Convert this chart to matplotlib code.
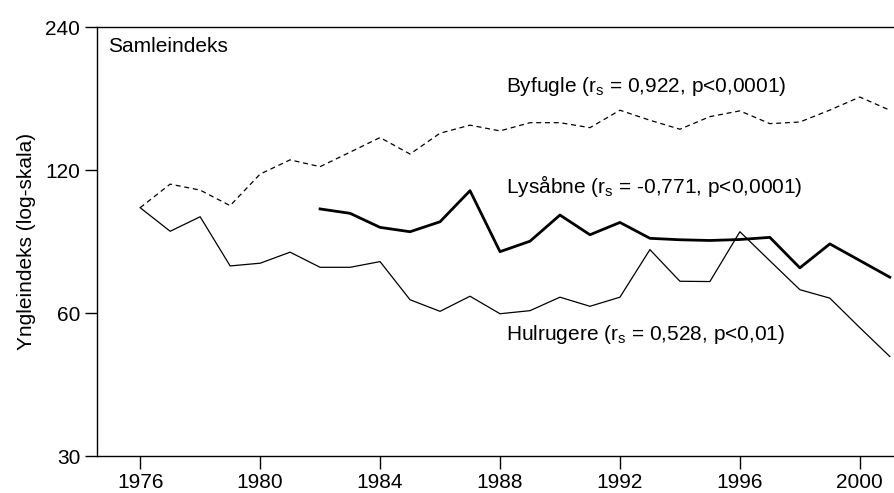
import matplotlib
matplotlib.use('Agg')
import matplotlib.pyplot as plt
from matplotlib.ticker import FixedLocator, NullLocator

plt.rcParams['font.family'] = ['Liberation Sans', 'DejaVu Sans']
plt.rcParams['mathtext.fontset'] = 'custom'
plt.rcParams['mathtext.rm'] = 'Liberation Sans'
plt.rcParams['mathtext.it'] = 'Liberation Sans'

years_hul = list(range(1976, 2002))
hulrugere = [100, 89.2, 95.7, 75.4, 76.4, 80.6, 74.9, 74.9, 77.0, 64.0, 60.5, 65.1, 59.8,
             60.7, 64.8, 62.0, 64.8, 81.6, 70.0, 69.9, 89.0, 77.3, 67.2, 64.5, 55.9, 48.6]

years_by = list(range(1976, 2002))
byfugle = [100, 112.1, 108.9, 101.0, 117.7, 126.1, 122.0, 130.9, 140.5, 129.7, 143.5, 149.2, 145.1,
           151.0, 151.0, 147.4, 160.4, 152.8, 146.3, 155.5, 159.9, 150.3, 151.5, 160.5, 171.0, 160.4]

years_lys = list(range(1982, 2002))
lysaabne = [99.4, 97.3, 90.9, 89.0, 93.4, 108.6, 80.8, 85.0, 96.5, 87.7, 93.1, 86.2, 85.6,
            85.3, 85.7, 86.6, 74.7, 83.9, 77.4, 71.4]

xticks = [1976, 1980, 1984, 1988, 1992, 1996, 2000]
yticks = [30, 60, 120, 240]

fs = 15

fig = plt.figure(figsize=(8.94, 4.93), dpi=100)
ax = fig.add_axes([0.1085, 0.075, 0.8915, 0.870])

ax.plot(years_by, byfugle, color='black', linewidth=0.9, linestyle=(0, (4, 3)))
ax.plot(years_hul, hulrugere, color='black', linewidth=0.9)
ax.plot(years_lys, lysaabne, color='black', linewidth=2.0)

ax.set_yscale('log')
ax.set_ylim(30, 240)
ax.set_xlim(1974.56, 2001.14)
ax.yaxis.set_major_locator(FixedLocator(yticks))
ax.yaxis.set_minor_locator(NullLocator())
ax.set_yticklabels([str(v) for v in yticks])
ax.set_xticks(xticks)
ax.set_xticklabels([str(v) for v in xticks])
ax.tick_params(axis='both', direction='out', length=9, width=1, labelsize=fs, pad=3)

ax.spines['right'].set_visible(False)
for s in ['left', 'bottom', 'top']:
    ax.spines[s].set_linewidth(1)

ax.set_ylabel('Yngleindeks (log-skala)', fontsize=fs, labelpad=7)

ax.text(0.014, 0.955, 'Samleindeks', transform=ax.transAxes, fontsize=fs, va='center')
ax.text(1988.2, 180, r'Byfugle (r$_s$ = 0,922, p<0,0001)', fontsize=fs, va='center')
ax.text(1988.2, 111, r'Lysåbne (r$_s$ = -0,771, p<0,0001)', fontsize=fs, va='center')
ax.text(1988.2, 54, r'Hulrugere (r$_s$ = 0,528, p<0,01)', fontsize=fs, va='center')

fig.savefig('out.png', dpi=100)
